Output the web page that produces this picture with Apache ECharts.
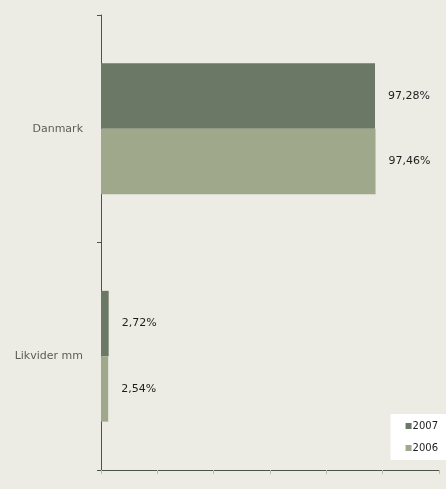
<!DOCTYPE html>
<html>
<head>
<meta charset="utf-8">
<script src="https://cdn.jsdelivr.net/npm/echarts@6/dist/echarts.min.js"></script>
<style>
  html, body { margin: 0; padding: 0; background: #ecebe4; }
</style>
</head>
<body>
<div id="myChart" style="width:446px;height:489px"></div>
<script>
var categories = ['Danmark', 'Likvider mm']
var years = ['2007', '2006']
var values2007 = [97.28, 2.72]
var values2006 = [97.46, 2.54]

var fmt = function (p) {
  return p.value.toFixed(2).replace('.', ',') + '%'
}

var myChart = echarts.init(document.getElementById('myChart'))

var labelStyle = {
  show: true,
  position: 'right',
  distance: 13,
  formatter: fmt,
  color: '#1e1e1e',
  fontSize: 11,
  fontFamily: 'DejaVu Sans'
}

myChart.setOption({
  backgroundColor: '#ecebe4',
  animation: false,
  color: ['#6b7866', '#9fa88a'],
  grid: { left: 101, right: 7, top: 15, bottom: 19 },
  legend: {
    data: years,
    orient: 'vertical',
    right: 0,
    top: 414,
    backgroundColor: '#ffffff',
    padding: [7, 8, 7, 15],
    itemWidth: 6,
    itemHeight: 6,
    itemGap: 12,
    icon: 'rect',
    textStyle: { fontSize: 10, fontFamily: 'DejaVu Sans', color: '#1e1e1e', padding: [0, 0, 0, -4] }
  },
  xAxis: {
    type: 'value',
    min: 0,
    max: 120,
    interval: 20,
    axisLine: { show: true, lineStyle: { color: '#4a5545', width: 1 } },
    axisTick: { show: true, length: 4, lineStyle: { color: '#b9bcb2' } },
    axisLabel: { show: false },
    splitLine: { show: false }
  },
  yAxis: {
    type: 'category',
    data: categories,
    inverse: true,
    axisLine: { show: true, lineStyle: { color: '#4a5545', width: 1 } },
    axisTick: { show: true, length: 4, lineStyle: { color: '#4a5545' } },
    axisLabel: { margin: 18, fontSize: 11, fontFamily: 'DejaVu Sans', color: '#5b6056' }
  },
  series: [
    {
      name: '2007',
      type: 'bar',
      data: values2007,
      barGap: '0%',
      barCategoryGap: '42.5%',
      label: labelStyle
    },
    {
      name: '2006',
      type: 'bar',
      data: values2006,
      label: labelStyle
    }
  ]
})
</script>
</body>
</html>
